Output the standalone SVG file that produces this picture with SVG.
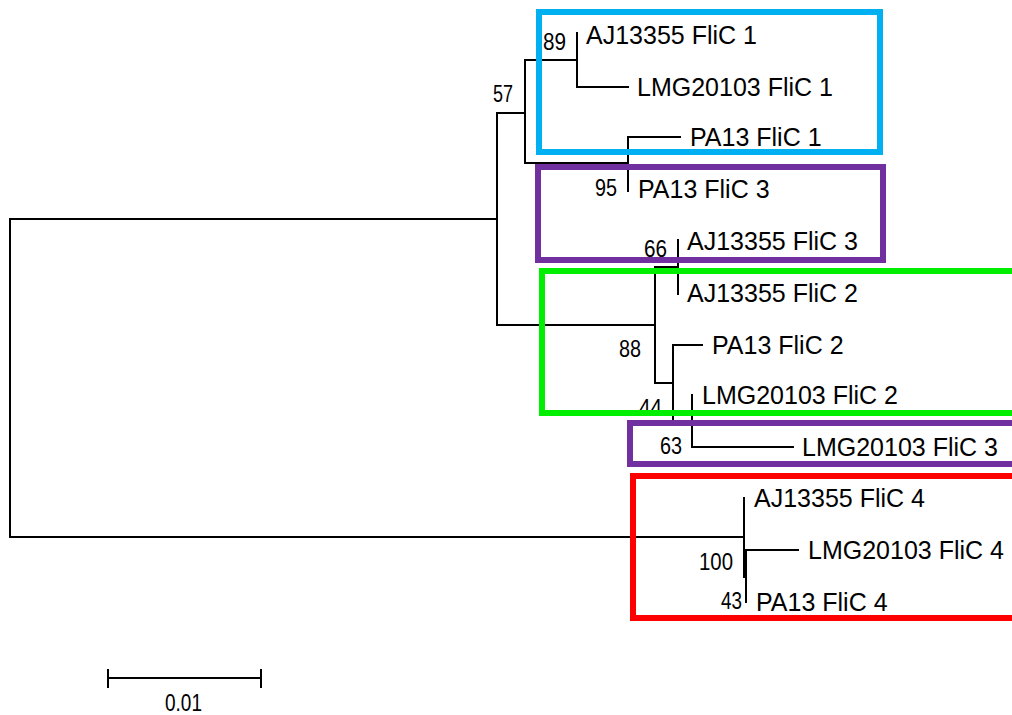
<svg xmlns="http://www.w3.org/2000/svg" width="1012" height="715" viewBox="0 0 1012 715">
<style>
.br{stroke:#000;stroke-width:2;fill:none;stroke-linecap:square}
.lf{font-family:"Liberation Sans",Arial,sans-serif;font-size:25px;fill:#000}
.bs{font-family:"Liberation Sans",Arial,sans-serif;font-size:24px;fill:#000}
.box{fill:none;stroke-width:6}
</style>
<rect width="1012" height="715" fill="#fff"/>
<g id="connectors" class="br">
<path d="M10 219V537M10 219H497M10 537H744"/>
<path d="M497 113V325M497 113H525M497 325H655"/>
<path d="M525 60V163M525 60H577M525 163H628"/>
<path d="M577 33V87M577 87H628"/>
<path d="M628 137V191M628 137H680"/>
<path d="M655 267V383M655 267H678M678 240V294"/>
<path d="M655 383H673M673 345V421M673 345H702M673 421H692"/>
<path d="M692 395V447M692 447H793"/>
<path d="M744 498V577M746 550V602M746 550H798"/>
</g>
<g id="bootstrap">
<text class="bs" x="493" y="102" textLength="20" lengthAdjust="spacingAndGlyphs">57</text>
<text class="bs" x="543" y="50" textLength="23" lengthAdjust="spacingAndGlyphs">89</text>
<text class="bs" x="595" y="196" textLength="22" lengthAdjust="spacingAndGlyphs">95</text>
<text class="bs" x="644" y="257" textLength="23" lengthAdjust="spacingAndGlyphs">66</text>
<text class="bs" x="619" y="357" textLength="22" lengthAdjust="spacingAndGlyphs">88</text>
<text class="bs" x="639" y="416" textLength="23" lengthAdjust="spacingAndGlyphs">44</text>
<text class="bs" x="660" y="454" textLength="22" lengthAdjust="spacingAndGlyphs">63</text>
<text class="bs" x="699" y="570" textLength="34" lengthAdjust="spacingAndGlyphs">100</text>
<text class="bs" x="721" y="609" textLength="21" lengthAdjust="spacingAndGlyphs">43</text>
</g>
<g id="leaf-aj1"><text class="lf" x="586" y="44">AJ13355 FliC 1</text></g>
<g id="leaf-lmg1"><text class="lf" x="637" y="96">LMG20103 FliC 1</text></g>
<g id="leaf-pa1"><text class="lf" x="690" y="146">PA13 FliC 1</text></g>
<g id="leaf-pa3"><text class="lf" x="638" y="198">PA13 FliC 3</text></g>
<g id="leaf-aj3"><text class="lf" x="687" y="250">AJ13355 FliC 3</text></g>
<g id="leaf-aj2"><text class="lf" x="687" y="302">AJ13355 FliC 2</text></g>
<g id="leaf-pa2"><text class="lf" x="712" y="354">PA13 FliC 2</text></g>
<g id="leaf-lmg2"><text class="lf" x="702" y="404">LMG20103 FliC 2</text></g>
<g id="leaf-lmg3"><text class="lf" x="802" y="456">LMG20103 FliC 3</text></g>
<g id="leaf-aj4"><text class="lf" x="754" y="507">AJ13355 FliC 4</text></g>
<g id="leaf-lmg4"><text class="lf" x="808" y="559">LMG20103 FliC 4</text></g>
<g id="leaf-pa4"><text class="lf" x="756" y="611">PA13 FliC 4</text></g>
<g id="box-blue"><rect class="box" x="539" y="12" width="341" height="140" stroke="#00b0f0"/></g>
<g id="box-purple1"><rect class="box" x="538" y="167" width="345" height="93" stroke="#7030a0"/></g>
<g id="box-green"><rect class="box" x="542" y="271" width="480" height="142" stroke="#00ee00"/></g>
<g id="box-purple2"><rect class="box" x="630" y="423" width="392" height="41" stroke="#7030a0"/></g>
<g id="box-red"><rect class="box" x="633" y="476" width="389" height="142" stroke="#ff0000"/></g>
<g id="scale">
<path class="br" d="M108 678H261M108 670V687M261 670V687"/>
<text class="bs" x="165" y="711" textLength="37" lengthAdjust="spacingAndGlyphs">0.01</text>
</g>
</svg>
